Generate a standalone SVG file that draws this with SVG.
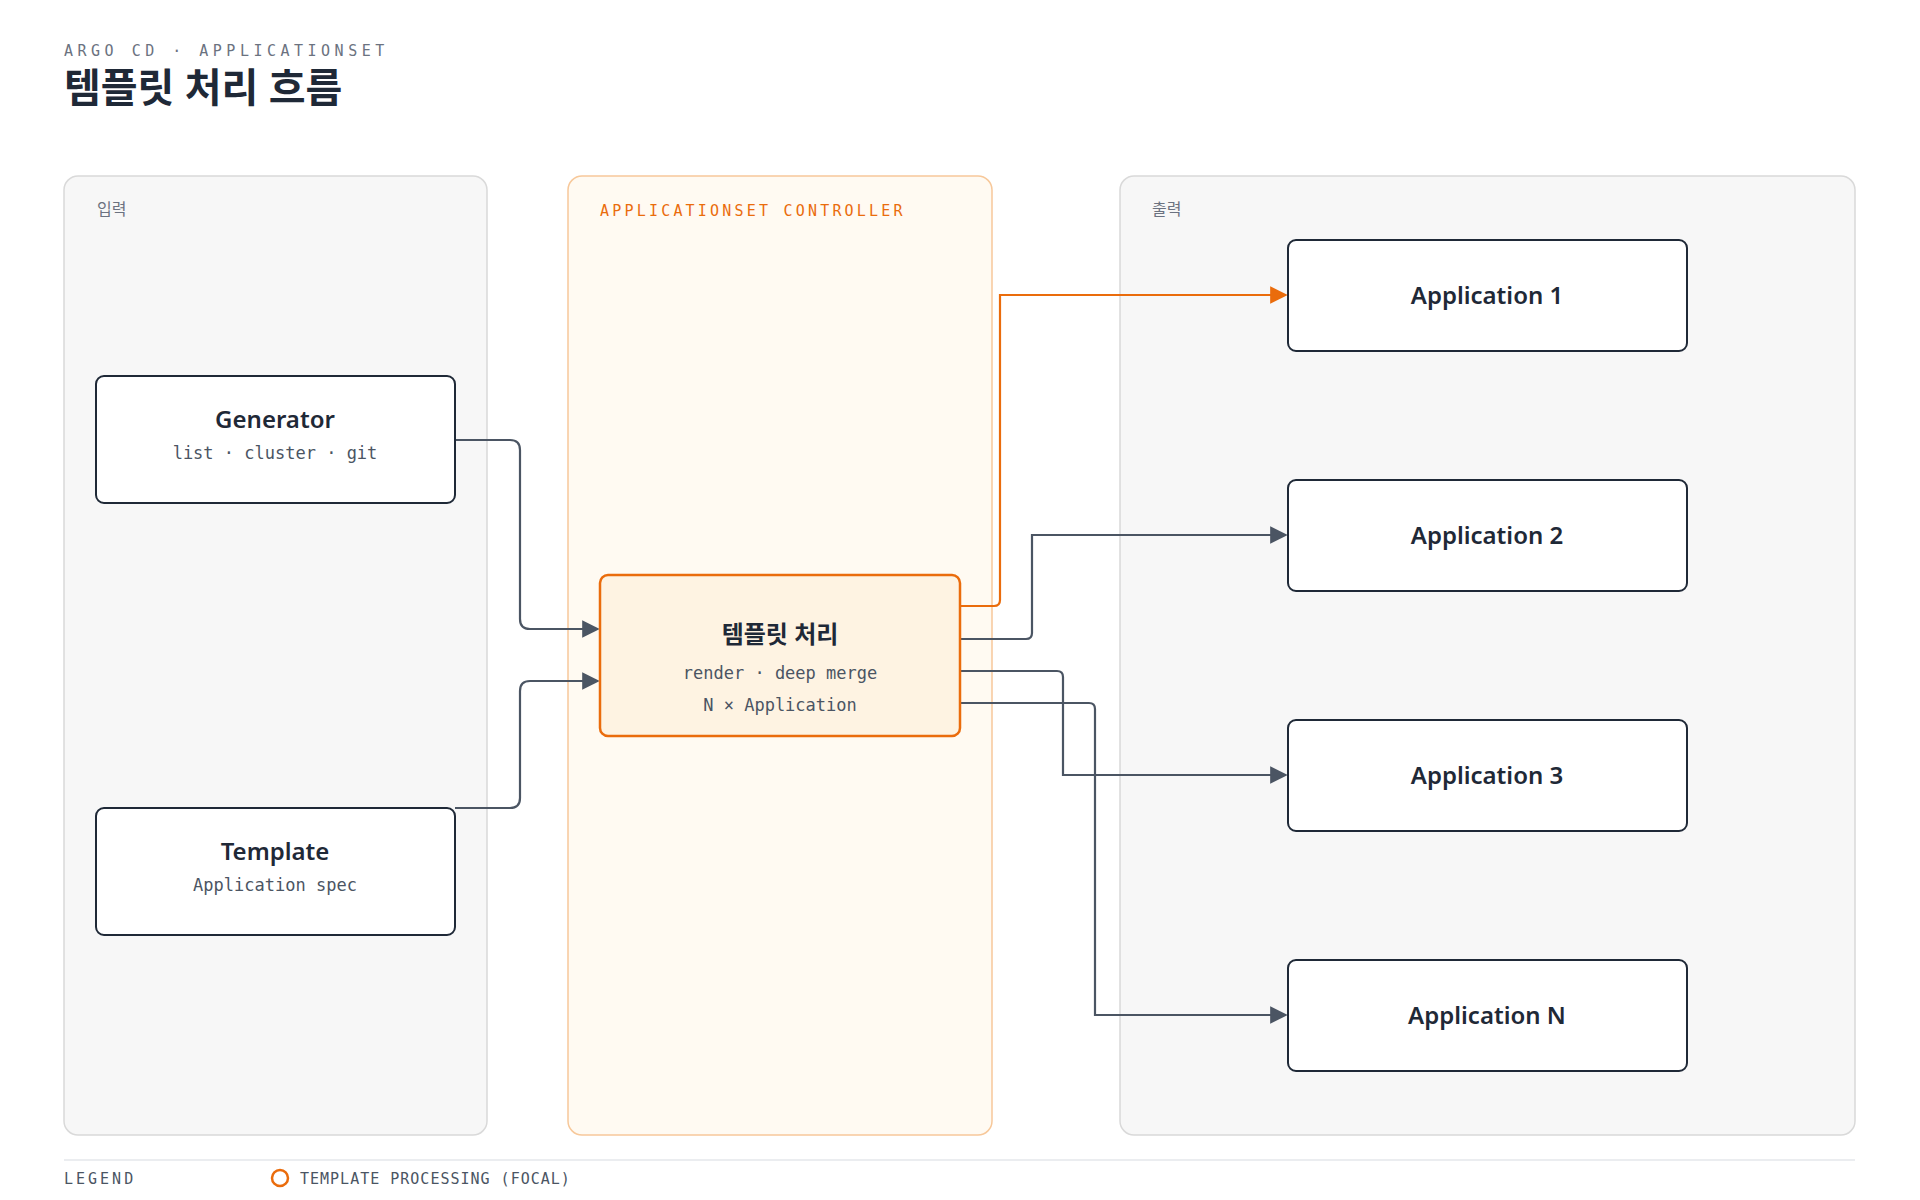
<svg xmlns="http://www.w3.org/2000/svg" width="1920" height="1200" viewBox="0 0 1920 1200">
<defs>
<style>
.sans{font-family:"Noto Sans","Noto Sans CJK KR",sans-serif}
.mono{font-family:"DejaVu Sans Mono","Liberation Mono",monospace}
.node{fill:#fff;stroke:#1f2937;stroke-width:2}
.nt{font-size:24px;font-weight:600;fill:#1f2937;text-anchor:middle}
.ns{font-size:17px;fill:#4b5563;text-anchor:middle}
.c{fill:none;stroke:#4b5563;stroke-width:2.2}
.co{fill:none;stroke:#ea6c0c;stroke-width:2.2}
</style>
<marker id="a" viewBox="0 0 10 10" refX="9" refY="5" markerWidth="8" markerHeight="8" orient="auto"><path d="M0,0L10,5L0,10z" fill="#4b5563"/></marker>
<marker id="ao" viewBox="0 0 10 10" refX="9" refY="5" markerWidth="8" markerHeight="8" orient="auto"><path d="M0,0L10,5L0,10z" fill="#ea6c0c"/></marker>
</defs>
<rect width="1920" height="1200" fill="#fff"/>
<text x="64" y="56" class="mono" font-size="15" letter-spacing="4.5" fill="#6b7280">ARGO CD · APPLICATIONSET</text>
<text x="64" y="102" class="sans" font-size="40" font-weight="700" fill="#1f2937">템플릿 처리 흐름</text>
<g id="panel-input"><rect x="64" y="176" width="423" height="959" rx="14" fill="#f7f7f7" stroke="#d9d9d9" stroke-width="1.5"/><text x="97" y="215" class="sans" font-size="16" fill="#6b7280">입력</text></g>
<g id="panel-controller"><rect x="568" y="176" width="424" height="959" rx="14" fill="#fffaf2" stroke="#f7c89a" stroke-width="1.5"/><text x="600" y="216" class="mono" font-size="15" letter-spacing="3.2" fill="#ea6c0c">APPLICATIONSET CONTROLLER</text></g>
<g id="panel-output"><rect x="1120" y="176" width="735" height="959" rx="14" fill="#f7f7f7" stroke="#d9d9d9" stroke-width="1.5"/><text x="1152" y="215" class="sans" font-size="16" fill="#6b7280">출력</text></g>
<g id="connectors">
<path class="c" d="M455,440H510Q520,440 520,450V619Q520,629 530,629H598" marker-end="url(#a)"/>
<path class="c" d="M455,808H510Q520,808 520,798V691Q520,681 530,681H598" marker-end="url(#a)"/>
<path class="co" d="M960,606H994Q1000,606 1000,600V295H1286" marker-end="url(#ao)"/>
<path class="c" d="M960,639H1026Q1032,639 1032,633V535H1286" marker-end="url(#a)"/>
<path class="c" d="M960,671H1057Q1063,671 1063,677V775H1286" marker-end="url(#a)"/>
<path class="c" d="M960,703H1089Q1095,703 1095,709V1015H1286" marker-end="url(#a)"/>
</g>
<g id="generator"><rect class="node" x="96" y="376" width="359" height="127" rx="8"/><text x="275" y="428" class="sans nt">Generator</text><text x="275" y="459" class="mono ns">list · cluster · git</text></g>
<g id="template"><rect class="node" x="96" y="808" width="359" height="127" rx="8"/><text x="275" y="860" class="sans nt">Template</text><text x="275" y="891" class="mono ns">Application spec</text></g>
<g id="processing"><rect x="600" y="575" width="360" height="161" rx="8" fill="#fef3e2" stroke="#ea6c0c" stroke-width="2.5"/><text x="780" y="643" class="sans nt">템플릿 처리</text><text x="780" y="679" class="mono ns">render · deep merge</text><text x="780" y="711" class="mono ns">N × Application</text></g>
<g id="app1"><rect class="node" x="1288" y="240" width="399" height="111" rx="8"/><text x="1487" y="304" class="sans nt">Application 1</text></g>
<g id="app2"><rect class="node" x="1288" y="480" width="399" height="111" rx="8"/><text x="1487" y="544" class="sans nt">Application 2</text></g>
<g id="app3"><rect class="node" x="1288" y="720" width="399" height="111" rx="8"/><text x="1487" y="784" class="sans nt">Application 3</text></g>
<g id="appN"><rect class="node" x="1288" y="960" width="399" height="111" rx="8"/><text x="1487" y="1024" class="sans nt">Application N</text></g>
<g id="legend"><line x1="64" y1="1160" x2="1855" y2="1160" stroke="#e5e7eb" stroke-width="1.5"/><text x="64" y="1184" class="mono" font-size="15" letter-spacing="3" fill="#4b5563">LEGEND</text><circle cx="280" cy="1178" r="8" fill="none" stroke="#ea6c0c" stroke-width="2.5"/><text x="300" y="1184" class="mono" font-size="15" letter-spacing="1" fill="#4b5563">TEMPLATE PROCESSING (FOCAL)</text></g>
</svg>
